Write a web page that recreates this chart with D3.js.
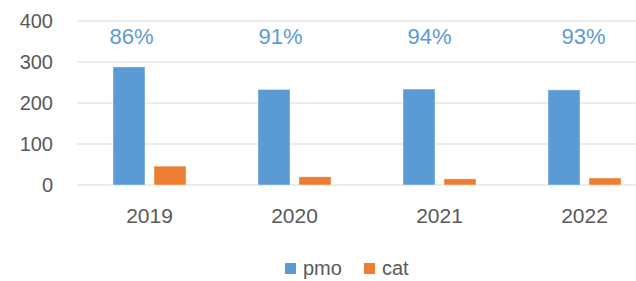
<!DOCTYPE html>
<html>
<head>
<meta charset="utf-8">
<script src="https://cdn.jsdelivr.net/npm/d3@7"></script>
<style>
  body { margin: 0; background: #fff; }
  text { font-family: "Liberation Sans", Arial, sans-serif; }
</style>
</head>
<body>
<script>
var years = ["2019", "2020", "2021", "2022"];
var seriesNames = ["pmo", "cat"];
var pmo = [288, 233, 234, 232];
var cat = [46, 20, 15, 17];
var pctLabels = ["86%", "91%", "94%", "93%"];
var yTicks = [0, 100, 200, 300, 400];

var colors = { pmo: "#5B9BD5", cat: "#ED7D31" };
// label boxes sit a bit left of the group centre in the original
var labelDx = [-18, -14, -10, -1];

var width = 636, height = 281;

var svg = d3.select("body").append("svg")
    .attr("width", width)
    .attr("height", height);

var x = d3.scaleBand()
    .domain(years)
    .range([77, 657]);

var xs = d3.scaleBand()
    .domain(seriesNames)
    .range([-36.5, 36.5])
    .paddingInner(0.22);

var y = d3.scaleLinear()
    .domain([0, 400])
    .range([185, 21]);

// gridlines
svg.selectAll(".grid")
    .data(yTicks)
    .enter().append("line")
    .attr("class", "grid")
    .attr("x1", 77)
    .attr("x2", width)
    .attr("y1", function(d) { return y(d); })
    .attr("y2", function(d) { return y(d); })
    .attr("stroke", "#d9d9d9")
    .attr("stroke-width", 1.2);

// y labels
svg.selectAll(".ylab")
    .data(yTicks)
    .enter().append("text")
    .attr("class", "ylab")
    .attr("x", 53)
    .attr("y", function(d) { return y(d); })
    .attr("dy", "0.36em")
    .attr("text-anchor", "end")
    .attr("fill", "#595959")
    .style("font-size", "20px")
    .text(function(d) { return d; });

var rows = years.map(function(yr, i) {
  return { year: yr, pmo: pmo[i], cat: cat[i] };
});

var groups = svg.selectAll(".grp")
    .data(rows)
    .enter().append("g")
    .attr("class", "grp")
    .attr("transform", function(d) { return "translate(" + (x(d.year) + x.bandwidth() / 2) + ",0)"; });

groups.selectAll("rect")
    .data(function(d) { return seriesNames.map(function(s) { return { key: s, value: d[s] }; }); })
    .enter().append("rect")
    .attr("x", function(d) { return xs(d.key); })
    .attr("width", xs.bandwidth())
    .attr("y", function(d) { return y(d.value); })
    .attr("height", function(d) { return y(0) - y(d.value); })
    .attr("fill", function(d) { return colors[d.key]; })
    .attr("stroke", "#fff")
    .attr("stroke-opacity", 0.5)
    .attr("stroke-width", 0.8);

// x labels
svg.selectAll(".xlab")
    .data(years)
    .enter().append("text")
    .attr("class", "xlab")
    .attr("x", function(d) { return x(d) + x.bandwidth() / 2; })
    .attr("y", 223)
    .attr("text-anchor", "middle")
    .attr("fill", "#595959")
    .style("font-size", "21px")
    .text(function(d) { return d; });

// percentage labels
svg.selectAll(".pct")
    .data(pctLabels)
    .enter().append("text")
    .attr("class", "pct")
    .attr("x", function(d, i) { return x(years[i]) + x.bandwidth() / 2 + labelDx[i]; })
    .attr("y", 44)
    .attr("text-anchor", "middle")
    .attr("fill", "#5B9BD5")
    .style("font-size", "22px")
    .text(function(d) { return d; });

// legend
var legendX = [285, 364];
var legend = svg.selectAll(".leg")
    .data(seriesNames)
    .enter().append("g")
    .attr("class", "leg")
    .attr("transform", function(d, i) { return "translate(" + legendX[i] + ",263)"; });

legend.append("rect")
    .attr("width", 11)
    .attr("height", 11)
    .attr("fill", function(d) { return colors[d]; });

legend.append("text")
    .attr("x", 18)
    .attr("y", 12)
    .attr("fill", "#595959")
    .style("font-size", "20px")
    .text(function(d) { return d; });
</script>
</body>
</html>
